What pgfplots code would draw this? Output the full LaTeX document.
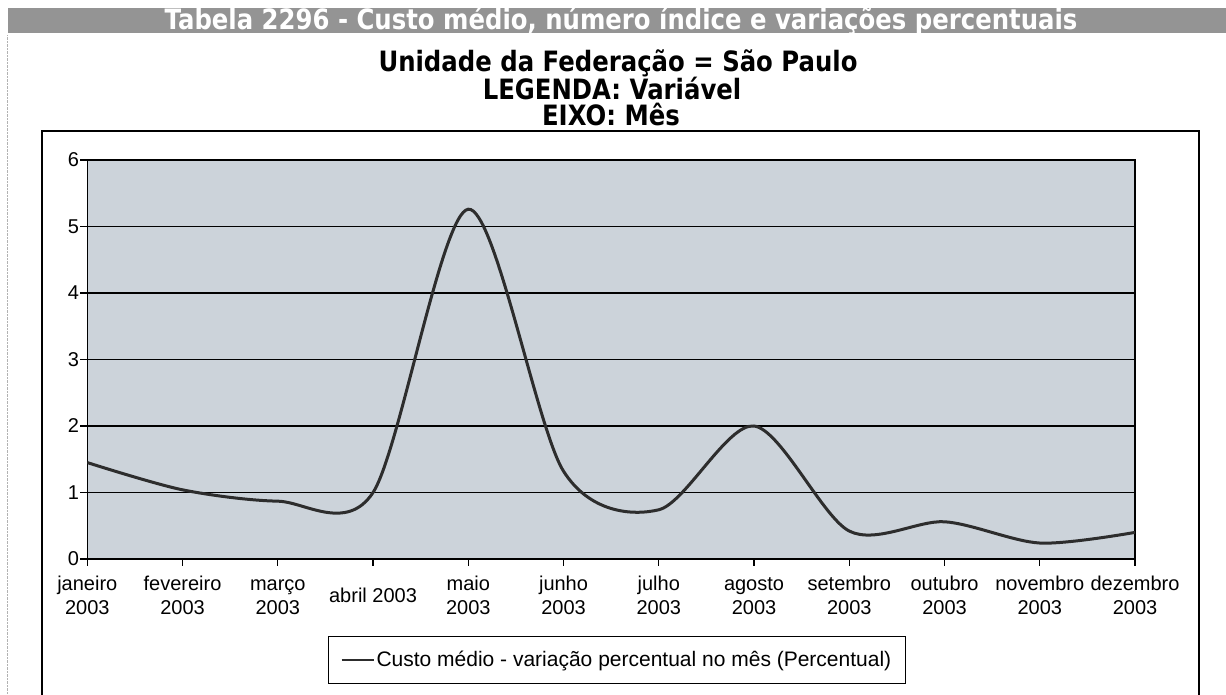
\documentclass[border=0pt]{standalone}
\usepackage{pgfplots}
\pgfplotsset{compat=1.18}
\usepackage{fontspec}
\setmainfont{Liberation Sans}
\newfontfamily\titlefont{DejaVu Sans Bold}[FakeStretch=0.87]
\definecolor{plotbg}{RGB}{204,211,218}
\definecolor{barbg}{RGB}{148,148,148}
\definecolor{curvec}{RGB}{45,45,45}
\begin{document}
\begin{tikzpicture}
\begin{axis}[
  name=ax, anchor=origin, scale only axis,
  width=1047.7pt, height=399pt,
  xmin=0, xmax=11, ymin=0, ymax=6,
  axis background/.style={fill=plotbg},
  axis line style={black, line width=1.4pt},
  ytick={0,1,2,3,4,5,6},
  ymajorgrids, grid style={black, line width=1.5pt},
  xtick={0,1,2,3,4,5,6,7,8,9,10,11},
  xticklabels={janeiro\strut\\2003\strut, fevereiro\strut\\2003\strut, março\strut\\2003\strut, abril 2003\strut, maio\strut\\2003\strut, junho\strut\\2003\strut, julho\strut\\2003\strut, agosto\strut\\2003\strut, setembro\strut\\2003\strut, outubro\strut\\2003\strut, novembro\strut\\2003\strut, dezembro\strut\\2003\strut},
  xtick pos=bottom, ytick pos=left,
  tick align=outside, major tick length=7pt,
  tick style={black, line width=1.2pt},
  /pgf/number format/assume math mode=true,
  tick label style={font=\fontsize{20}{24}\selectfont},
  xticklabel style={align=center, anchor=center, yshift=-32pt},
  yticklabel style={inner sep=1pt},
  legend style={at={(0.5056,-0.253)}, anchor=center, draw=black, line width=1.2pt, fill=white,
    font=\fontsize{21}{24}\selectfont, inner xsep=12pt, inner ysep=13pt},
  legend image code/.code={\draw[#1, line width=1.8pt] (0pt,0pt) -- (32pt,0pt);},
]
\addplot[curvec, line width=3pt, smooth, tension=0.5] coordinates {
(0,1.45) (1,1.04) (2,0.87) (3,1.00) (4,5.26) (5,1.32) (6,0.74) (7,2.00) (8,0.42) (9,0.56) (10,0.24) (11,0.40)
};
\addlegendentry{Custo médio - variação percentual no mês (Percentual)}
\end{axis}
\path (ax.origin) ++(-87.3pt,-136pt) coordinate (O);
\begin{scope}[shift={(O)}, x=1pt, y=1pt]
\draw[gray!60, densely dotted] (7,0) -- (7,660);
\fill[barbg] (8,662) rectangle (1226,687);
\node[anchor=base, text=white, inner sep=0pt, font=\titlefont\fontsize{28}{30}\selectfont] at (621,665.5) {Tabela 2296 - Custo médio, número índice e variações percentuais};
\node[anchor=base, inner sep=0pt, font=\titlefont\fontsize{28}{32}\selectfont] at (618,623) {Unidade da Federação = São Paulo};
\node[anchor=base, inner sep=0pt, font=\titlefont\fontsize{28}{32}\selectfont] at (612,595.5) {LEGENDA: Variável};
\node[anchor=base, inner sep=0pt, font=\titlefont\fontsize{28}{32}\selectfont] at (611,569.5) {EIXO: Mês};
\draw[line width=1.5pt] (42,-5) rectangle (1199,564);
\end{scope}
\pgfresetboundingbox
\path[use as bounding box, shift={(O)}, x=1pt, y=1pt] (0,0) rectangle (1226,695);
\end{tikzpicture}
\end{document}
